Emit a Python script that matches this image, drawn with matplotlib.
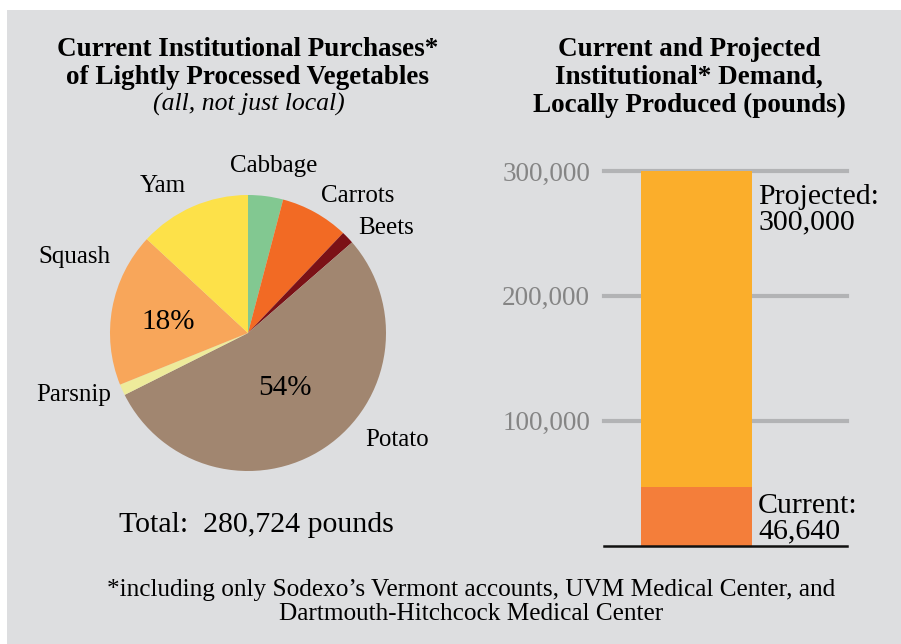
import matplotlib
matplotlib.use('Agg')
import matplotlib.pyplot as plt
from matplotlib.patches import Rectangle

# pie: current purchases, share of pounds (%)
veg = ['Cabbage', 'Carrots', 'Beets', 'Potato', 'Parsnip', 'Squash', 'Yam']
share = [4.1, 8.0, 1.5, 54.0, 1.3, 18.0, 13.1]
veg_colors = ['#82c891', '#f26a24', '#7b1116', '#a18670', '#eeeb9b', '#f8a65a', '#fde149']
total_pounds = 280724

# bar: current vs projected local demand (pounds)
demand_labels = ['Current', 'Projected']
demand = [46640, 300000]
demand_colors = ['#f47e3a', '#fbae2b']
yticks = [100000, 200000, 300000]

W, H = 901, 644
bg = '#dddee0'
serif = 'Liberation Serif'


def fx(x):
    return x / W


def fy(y):
    return 1 - y / H


fig = plt.figure(figsize=(W / 100, H / 100), dpi=100)
fig.patch.set_facecolor('white')
fig.patches.append(Rectangle((fx(7), 0), 1 - fx(7), fy(10), transform=fig.transFigure,
                             facecolor=bg, edgecolor='none', zorder=-10))

# titles
fig.text(fx(248), fy(56), 'Current Institutional Purchases*', ha='center', va='baseline',
         fontsize=19.5, fontweight='bold', family=serif)
fig.text(fx(248), fy(84), 'of Lightly Processed Vegetables', ha='center', va='baseline',
         fontsize=19.5, fontweight='bold', family=serif)
fig.text(fx(249), fy(111), '(all, not just local)', ha='center', va='baseline',
         fontsize=18.5, fontstyle='italic', family=serif)

fig.text(fx(689), fy(56), 'Current and Projected', ha='center', va='baseline',
         fontsize=19.5, fontweight='bold', family=serif)
fig.text(fx(689), fy(84), 'Institutional* Demand,', ha='center', va='baseline',
         fontsize=19.5, fontweight='bold', family=serif)
fig.text(fx(689), fy(112), 'Locally Produced (pounds)', ha='center', va='baseline',
         fontsize=19.5, fontweight='bold', family=serif)

# pie chart
r = 138
ax1 = fig.add_axes([fx(248 - r), fy(333 + r), 2 * r / W, 2 * r / H])
ax1.pie(share, colors=veg_colors, startangle=90, counterclock=False,
        wedgeprops=dict(linewidth=0))
ax1.set_xlim(-1, 1)
ax1.set_ylim(-1, 1)
ax1.set_aspect('equal')
ax1.axis('off')

label_pos = {'Cabbage': (274, 166), 'Carrots': (358, 196), 'Beets': (386, 228),
             'Potato': (397, 440), 'Parsnip': (74, 395), 'Squash': (74, 257),
             'Yam': (163, 186)}
for name in veg:
    x, y = label_pos[name]
    fig.text(fx(x), fy(y), name, ha='center', va='center', fontsize=18, family=serif)

pct_pos = {'Squash': (168, 322), 'Potato': (285, 388)}
for name, (x, y) in pct_pos.items():
    fig.text(fx(x), fy(y), f'{share[veg.index(name)]:.0f}%', ha='center', va='center',
             fontsize=21, family=serif)

fig.text(fx(256), fy(532), f'Total:  {total_pounds:,} pounds', ha='center', va='baseline',
         fontsize=21.5, family=serif)

# stacked bar
ax2 = fig.add_axes([fx(604), fy(545.7), 243 / W, 374.7 / H])
bottom = 0
for val, col in zip(demand, demand_colors):
    ax2.bar(0, val - bottom, bottom=bottom, width=1, color=col, zorder=3)
    bottom = val
for t in yticks:
    ax2.axhline(t, color='#b2b3b5', lw=3, zorder=1, clip_on=False)
ax2.axhline(0, color='#111111', lw=1.8, zorder=4, clip_on=False)
ax2.set_xlim(-0.833, 1.356)
ax2.set_ylim(0, 300000)
ax2.set_facecolor('none')
for s in ax2.spines.values():
    s.set_visible(False)
ax2.set_xticks([])
ax2.set_yticks(yticks)
ax2.set_yticklabels([f'{t:,}' for t in yticks], color='#858585', fontsize=19.5, family=serif)
ax2.tick_params(axis='y', length=0, pad=10)

drops = [26, 33]
for lab, val, d in zip(demand_labels, demand, drops):
    ax2.annotate(lab + ':', (0.5, val), xytext=(6 * 0.72, -d * 0.72), textcoords='offset points',
                 ha='left', va='baseline', fontsize=21.5, family=serif)
    ax2.annotate(f'{val:,}', (0.5, val), xytext=(6 * 0.72, -(d + 25) * 0.72),
                 textcoords='offset points', ha='left', va='baseline', fontsize=21.5, family=serif)

# footnote
fig.text(fx(471), fy(596), '*including only Sodexo\u2019s Vermont accounts, UVM Medical Center, and',
         ha='center', va='baseline', fontsize=18.2, family=serif)
fig.text(fx(471), fy(620), 'Dartmouth-Hitchcock Medical Center',
         ha='center', va='baseline', fontsize=18.2, family=serif)

fig.savefig('out.png', dpi=100, facecolor=fig.get_facecolor())
